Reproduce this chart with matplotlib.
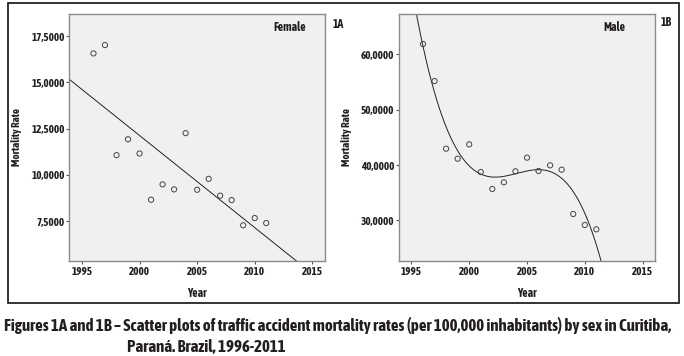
import numpy as np
import matplotlib
matplotlib.use("Agg")
import matplotlib.pyplot as plt
from matplotlib.ticker import FuncFormatter, FixedLocator
from matplotlib.patches import Rectangle

years = [1996, 1997, 1998, 1999, 2000, 2001, 2002, 2003, 2004, 2005, 2006, 2007, 2008, 2009, 2010, 2011]
female = [16.56, 17.01, 11.06, 11.92, 11.15, 8.65, 9.48, 9.21, 12.25, 9.19, 9.78, 8.87, 8.63, 7.27, 7.66, 7.39]
male = [61.87, 55.18, 42.95, 41.14, 43.73, 38.73, 35.66, 36.87, 38.86, 41.33, 38.92, 39.94, 39.16, 31.14, 29.16, 28.37]
x_ticks = [1995, 2000, 2005, 2010, 2015]
female_yticks = [7.5, 10.0, 12.5, 15.0, 17.5]
male_yticks = [30.0, 40.0, 50.0, 60.0]

FONT = ['Asap Condensed', 'DejaVu Sans']
TXT = '#231f20'
plt.rcParams['font.family'] = FONT
plt.rcParams['font.weight'] = 'bold'

fig = plt.figure(figsize=(6.84, 3.56), dpi=100)

def fmt(v, pos):
    return f"{v:.4f}".replace('.', ',')

def style(ax, yticks, ylim, ylab_x):
    ax.set_facecolor('#f0f0f0')
    ax.set_xlim(1993.9, 2016.1)
    ax.set_ylim(*ylim)
    ax.xaxis.set_major_locator(FixedLocator(x_ticks))
    ax.yaxis.set_major_locator(FixedLocator(yticks))
    ax.yaxis.set_major_formatter(FuncFormatter(fmt))
    for s in ['top', 'right', 'left', 'bottom']:
        ax.spines[s].set_color('#8a8a8a')
        ax.spines[s].set_linewidth(1.0)
    ax.tick_params(direction='out', length=2.4, width=0.8, color='#555555',
                   labelsize=8, labelcolor=TXT, pad=1.0)
    for lab in ax.get_xticklabels() + ax.get_yticklabels():
        lab.set_fontweight('bold')
    ax.set_xlabel('Year', fontsize=8.5, fontweight='bold', color=TXT)
    ax.set_ylabel('Mortality Rate', fontsize=8, fontweight='bold', color=TXT)
    ax.xaxis.set_label_coords(0.5, -0.105)
    ax.yaxis.set_label_coords(ylab_x, 0.5)

yr = np.array(years, dtype=float)
xs = np.linspace(1993.9, 2016.1, 300)

# Female panel
ax1 = fig.add_axes([0.1013, 0.2669, 0.3738, 0.6938])
style(ax1, female_yticks, (5.34, 18.69), -0.185)
ax1.scatter(years, female, s=14, facecolors='none', edgecolors='#444444', linewidths=0.7, zorder=3)
c1 = np.polyfit(yr - 2003.5, female, 1)
ax1.plot(xs, np.polyval(c1, xs - 2003.5), color='#222222', lw=0.7, zorder=2)
ax1.text(0.863, 0.945, 'Female', transform=ax1.transAxes, ha='center', va='center',
         fontsize=8.5, fontweight='bold', color=TXT)

# Male panel
ax2 = fig.add_axes([0.5829, 0.2669, 0.3751, 0.6938])
style(ax2, male_yticks, (22.65, 67.3), -0.182)
ax2.scatter(years, male, s=14, facecolors='none', edgecolors='#444444', linewidths=0.7, zorder=3)
c2 = np.polyfit(yr - 2003.5, male, 3)
ax2.plot(xs, np.polyval(c2, xs - 2003.5), color='#222222', lw=0.7, zorder=2)
ax2.text(0.839, 0.945, 'Male', transform=ax2.transAxes, ha='center', va='center',
         fontsize=8.5, fontweight='bold', color=TXT)

fig.text(338/684, 1 - 25/356, '1A', ha='center', va='center', fontsize=8.5, fontweight='bold', color=TXT)
fig.text(666/684, 1 - 23/356, '1B', ha='center', va='center', fontsize=8.5, fontweight='bold', color=TXT)

fig.add_artist(Rectangle((8.3/684, 53/356), 670.7/684, 300/356, transform=fig.transFigure,
                         fill=False, edgecolor='#111111', linewidth=1.2))

fig.text(3.5/684, 1 - 326/356,
         'Figures 1A and 1B \u2013 Scatter plots of traffic accident mortality rates (per 100,000 inhabitants) by sex in Curitiba,',
         ha='left', va='center', fontsize=12.2, fontweight='bold', color=TXT)
fig.text(127/684, 1 - 347/356, 'Paran\u00e1. Brazil, 1996-2011',
         ha='left', va='center', fontsize=12.2, fontweight='bold', color=TXT)

fig.savefig('out.png', dpi=100)
